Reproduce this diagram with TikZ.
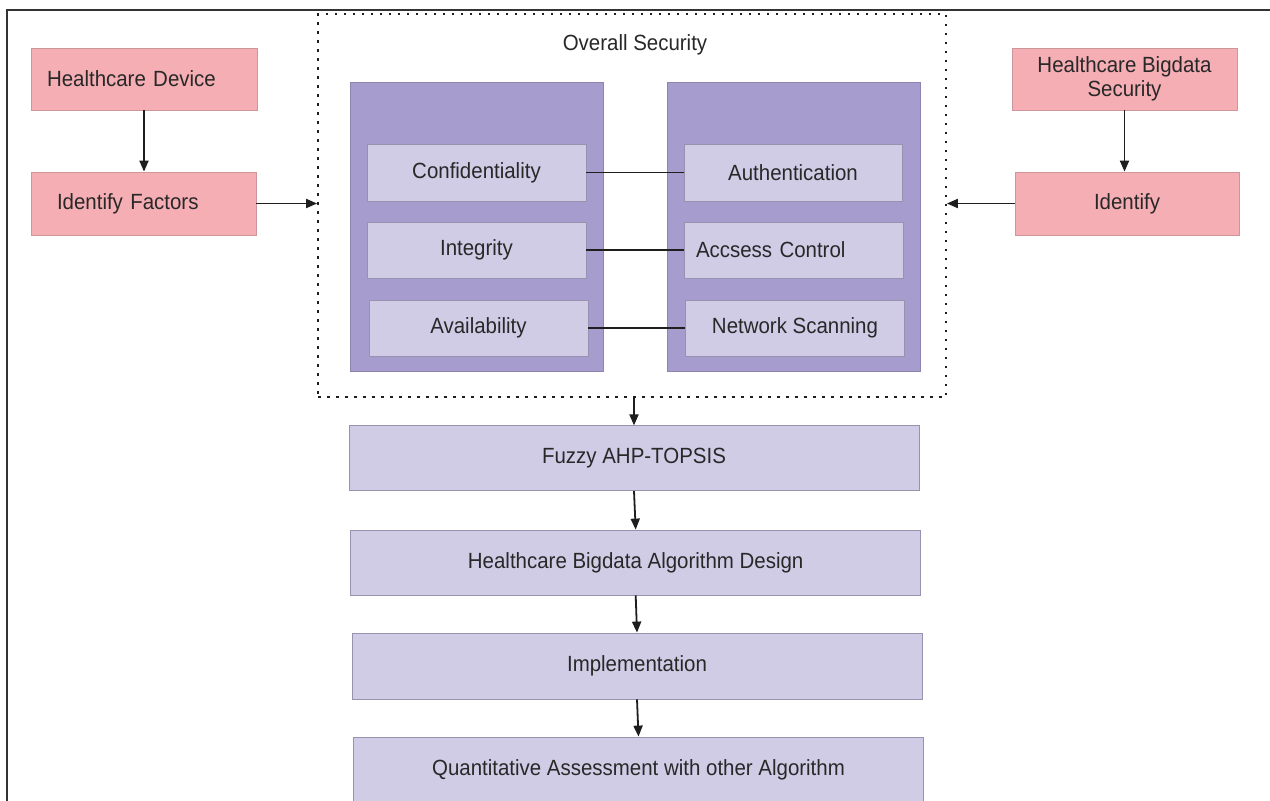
\documentclass[tikz,border=0pt]{standalone}
\usepackage{fontspec}
\setmainfont{Liberation Sans}[FakeStretch=0.93]
\usetikzlibrary{arrows.meta}
\definecolor{pinkfill}{RGB}{244,174,180}
\definecolor{pinkline}{RGB}{205,150,155}
\definecolor{panelfill}{RGB}{167,156,206}
\definecolor{boxfill}{RGB}{208,204,230}
\definecolor{boxline}{RGB}{150,146,175}
\definecolor{txt}{RGB}{40,40,40}
\definecolor{ln}{RGB}{30,30,30}
\tikzset{
  every node/.style={font=\fontsize{22}{26}\selectfont, text=txt},
  pinkbox/.style={rectangle, draw=pinkline, line width=0.8pt, fill=pinkfill, inner sep=0pt},
  panel/.style={rectangle, fill=panelfill, draw=panelfill!85!black, line width=0.5pt, inner sep=0pt},
  lavbox/.style={rectangle, draw=boxline, line width=0.8pt, fill=boxfill, inner sep=0pt},
  secbox/.style={rectangle, draw=ln, line width=1.8pt, dash pattern=on 2.5pt off 6.5pt, inner sep=0pt},
  arr/.style={draw=ln, line width=1.8pt, -{Triangle[length=11pt,width=9pt]}},
  link/.style={draw=ln, line width=1.8pt},
  frameline/.style={draw=black!80, line width=1.6pt}
}
\begin{document}
\begin{tikzpicture}[x=1pt,y=-1pt]
\useasboundingbox[fill=white] (0,0) rectangle (1270,801);
% frame lines
\coordinate (ftl) at (7,10);
\coordinate (ftr) at (1270,10);
\coordinate (fbl) at (7,801);
\draw[frameline] (ftr) -- (ftl) -- (fbl);

% dashed security region
\node[secbox, minimum width=628pt, minimum height=383pt] (sec) at (632,205.5) {};
\node (title) at (635,45) {Overall Security};

% panels
\node[panel, minimum width=253pt, minimum height=289pt] (lp) at (476.5,226.5) {};
\node[panel, minimum width=253pt, minimum height=289pt] (rp) at (793.5,226.5) {};

% left boxes
\node[lavbox, minimum width=219pt, minimum height=57pt] (conf) at (476.5,172.5) {Confidentiality};
\node[lavbox, minimum width=219pt, minimum height=56pt] (integ) at (476.5,250) {Integrity};
\node[lavbox, minimum width=219pt, minimum height=56pt] (avail) at (478.5,328) {Availability};
% right boxes
\node[lavbox, minimum width=218pt, minimum height=57pt] (auth) at (793,172.5) {Authentication};
\node[lavbox, minimum width=219pt, minimum height=56pt, text width=195pt, align=left, inner xsep=12pt] (acc) at (793.5,250) {Accsess Control};
\node[lavbox, minimum width=219pt, minimum height=56pt] (net) at (795,328) {Network Scanning};

\draw[link] (conf.east) -- (auth.west);
\draw[link] (integ.east) -- (acc.west);
\draw[link] (avail.east) -- (net.west);

% left pink
\node[pinkbox, minimum width=226pt, minimum height=62pt, text width=194pt, align=left, inner xsep=16pt] (hd) at (144,79) {Healthcare Device};
\node[pinkbox, minimum width=225pt, minimum height=63pt, text width=173pt, align=left, inner xsep=26pt] (idf) at (143.5,203.5) {Identify Factors};
% right pink
\node[pinkbox, minimum width=225pt, minimum height=62pt, align=center, font=\fontsize{22}{24}\selectfont] (hbs) at (1124.5,79) {Healthcare Bigdata\\Security};
\node[pinkbox, minimum width=224pt, minimum height=63pt] (ident) at (1127,203.5) {Identify};

\draw[arr] (hd.south) -- (hd.south |- idf.north);
\draw[arr] (idf.east) -- (idf.east -| sec.west);
\draw[arr] (hbs.south) -- (hbs.south |- ident.north);
\draw[arr] (ident.west) -- (ident.west -| sec.east);

% bottom flow
\node[lavbox, minimum width=570pt, minimum height=65pt] (fuzzy) at (634,458.3) {Fuzzy AHP-TOPSIS};
\node[lavbox, minimum width=570pt, minimum height=65pt] (design) at (635.7,562.5) {Healthcare Bigdata Algorithm Design};
\node[lavbox, minimum width=570pt, minimum height=66pt] (impl) at (637,666) {Implementation};
\node[lavbox, minimum width=570pt, minimum height=66pt] (quant) at (638.5,770) {Quantitative Assessment with other Algorithm};

\draw[arr] (fuzzy.north |- sec.south) -- (fuzzy.north);
\draw[arr] (fuzzy.south) -- (design.north);
\draw[arr] (design.south) -- (impl.north);
\draw[arr] (impl.south) -- (quant.north);
\end{tikzpicture}
\end{document}
